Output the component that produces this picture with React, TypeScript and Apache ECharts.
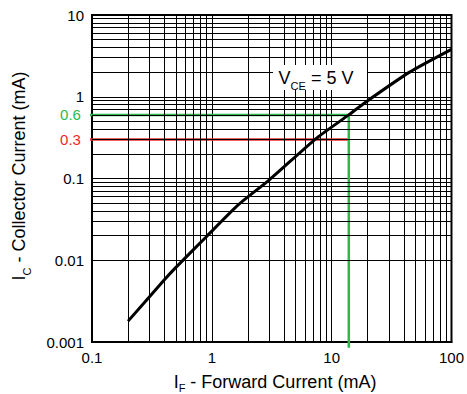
import React, { useEffect, useRef } from "react";
import * as echarts from "echarts";

// Transfer characteristic
const forwardCurrent = [0.2, 0.39, 0.49, 0.9, 1.66, 3.04, 7.45, 13.9, 18.8, 44.7, 100];
const collectorCurrent = [0.0018, 0.0055, 0.0079, 0.0194, 0.0475, 0.097, 0.31, 0.6, 0.84, 2.0, 3.8];

// Axis ranges
const xRange = [0.1, 100];
const yRange = [0.001, 10];

// Minor grid values
const xMinor = [0.2, 0.3, 0.4, 0.5, 0.6, 0.7, 0.8, 0.9, 2, 3, 4, 5, 6, 7, 8, 9, 20, 30, 40, 50, 60, 70, 80, 90];
const yMinor = [
  0.002, 0.003, 0.004, 0.005, 0.006, 0.007, 0.008, 0.009,
  0.02, 0.03, 0.04, 0.05, 0.06, 0.07, 0.08, 0.09,
  0.2, 0.3, 0.4, 0.5, 0.6, 0.7, 0.8, 0.9,
  2, 3, 4, 5, 6, 7, 8, 9,
];

// Guide lines
const greenGuideX = [0.089, 13.9, 13.9];
const greenGuideY = [0.6, 0.6, 0.00085];
const redGuideX = [0.089, 13.6];
const redGuideY = [0.3, 0.3];
const greenLabel = "0.6";
const redLabel = "0.3";

const GREEN = "#2db84d";
const RED = "#ee2a2a";
const FONT = "Liberation Sans, Arial, Helvetica, sans-serif";

const fmt = (v: number) => String(Number(v.toPrecision(6)));

const subRich = (lh: number) => ({
  a: { fontSize: 18, lineHeight: lh, verticalAlign: "top", fontFamily: FONT, fill: "#000" },
  b: { fontSize: 11, lineHeight: lh, verticalAlign: "bottom", fontFamily: FONT, fill: "#000" },
});

export default function App() {
  const ref = useRef<HTMLDivElement>(null);
  useEffect(() => {
    if (!ref.current) return;
    const chart = echarts.init(ref.current, null, { renderer: "svg" });

    const guide = (xs: number[], ys: number[], color: string, label: string) =>
      xs.map((x, i) =>
        i === 0
          ? {
              value: [x, ys[i]],
              label: {
                show: true,
                position: "left",
                distance: 5,
                formatter: label,
                color,
                fontSize: 15,
                fontFamily: FONT,
              },
            }
          : { value: [x, ys[i]], label: { show: false } }
      );

    chart.setOption({
      animation: false,
      textStyle: { fontFamily: FONT },
      grid: {
        left: 92,
        right: 15,
        top: 15,
        bottom: 52,
        show: true,
        borderColor: "#000",
        borderWidth: 2,
        backgroundColor: "#fff",
      },
      xAxis: {
        type: "log",
        logBase: 10,
        min: xRange[0],
        max: xRange[1],
        axisLine: { show: true, lineStyle: { color: "#000", width: 2 } },
        axisTick: { show: false },
        axisLabel: { color: "#000", fontSize: 15, margin: 8, formatter: fmt },
        splitLine: { show: true, lineStyle: { color: "#000", width: 1 } },
      },
      yAxis: {
        type: "log",
        logBase: 10,
        min: yRange[0],
        max: yRange[1],
        axisLine: { show: true, lineStyle: { color: "#000", width: 2 } },
        axisTick: { show: false },
        axisLabel: { color: "#000", fontSize: 15, margin: 8, formatter: fmt },
        splitLine: { show: true, lineStyle: { color: "#000", width: 1 } },
      },
      series: [
        {
          type: "line",
          data: [],
          silent: true,
          z: 1,
          markLine: {
            silent: true,
            symbol: ["none", "none"],
            label: { show: false },
            lineStyle: { color: "#000", width: 1, type: "solid" },
            data: [
              ...xMinor.map((v) => ({ xAxis: v })),
              ...yMinor.map((v) => ({ yAxis: v })),
            ],
          },
        },
        {
          type: "line",
          data: forwardCurrent.map((x, i) => [x, collectorCurrent[i]]),
          showSymbol: false,
          symbol: "none",
          smooth: 0.2,
          lineStyle: { color: "#000", width: 3 },
          z: 5,
        },
        {
          type: "line",
          clip: false,
          data: guide(greenGuideX, greenGuideY, GREEN, greenLabel),
          showSymbol: true,
          symbol: "circle",
          symbolSize: 0,
          itemStyle: { color: GREEN },
          lineStyle: { color: GREEN, width: 2.5 },
          z: 4,
        },
        {
          type: "line",
          clip: false,
          data: guide(redGuideX, redGuideY, RED, redLabel),
          showSymbol: true,
          symbol: "circle",
          symbolSize: 0,
          itemStyle: { color: RED },
          lineStyle: { color: RED, width: 2.5 },
          z: 4,
        },
      ],
      graphic: [
        {
          type: "rect",
          shape: { x: 273, y: 65, width: 94, height: 25 },
          style: { fill: "#fff" },
          z: 10,
        },
        {
          type: "text",
          x: 316,
          y: 80,
          z: 11,
          style: {
            text: "{a|V}{b|CE}{a| = 5 V}",
            align: "center",
            verticalAlign: "middle",
            fill: "#000",
            rich: subRich(22),
          },
        },
        {
          type: "text",
          x: 275,
          y: 383,
          z: 11,
          style: {
            text: "{a|I}{b|F}{a| - Forward Current (mA)}",
            align: "center",
            verticalAlign: "middle",
            fill: "#000",
            rich: subRich(20),
          },
        },
        {
          type: "text",
          x: 21,
          y: 176,
          rotation: Math.PI / 2,
          z: 11,
          style: {
            text: "{a|I}{b|C}{a| - Collector Current (mA)}",
            align: "center",
            verticalAlign: "middle",
            fill: "#000",
            rich: subRich(22),
          },
        },
      ],
    });
    return () => chart.dispose();
  }, []);
  return (
    <div
      ref={ref}
      style={{ position: "fixed", left: 0, top: 0, width: 467, height: 394, background: "#fff" }}
    />
  );
}
